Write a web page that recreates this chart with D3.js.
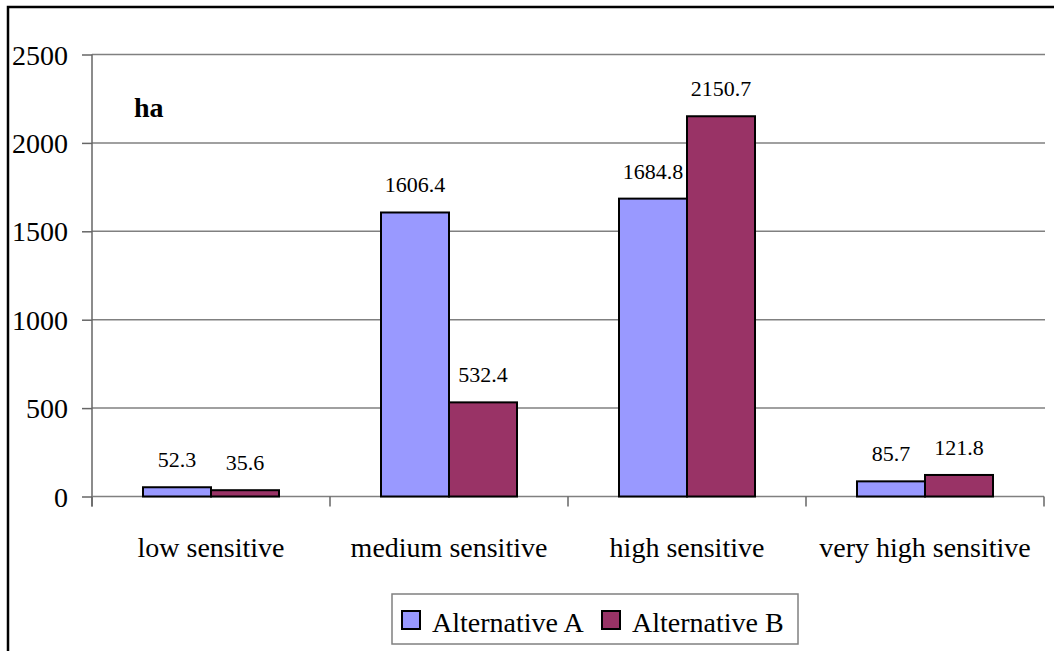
<!DOCTYPE html>
<html>
<head>
<meta charset="utf-8">
<script src="https://cdn.jsdelivr.net/npm/d3@7"></script>
</head>
<body style="margin:0; padding:0; background:#fff;">
<svg id="chart" width="1054" height="651" style="display:block;"></svg>
<script>
// Sensitivity classes and area (ha) per planning alternative
const categories = ["low sensitive", "medium sensitive", "high sensitive", "very high sensitive"];
const seriesNames = ["Alternative A", "Alternative B"];
const alternativeA = [52.3, 1606.4, 1684.8, 85.7];
const alternativeB = [35.6, 532.4, 2150.7, 121.8];
const yTicks = [0, 500, 1000, 1500, 2000, 2500];
const seriesColors = ["#9999FF", "#993366"];

const FONT = "Liberation Serif";
const svg = d3.select("#chart");

// Outer chart frame (extends past the right and bottom edges)
svg.append("rect")
  .attr("x", 8).attr("y", 7)
  .attr("width", 1200).attr("height", 800)
  .attr("fill", "none").attr("stroke", "#000").attr("stroke-width", 2.5);

const plot = { left: 92, right: 1044, top: 54.5, bottom: 496.5 };

const y = d3.scaleLinear().domain([0, 2500]).range([plot.bottom, plot.top]);
const x0 = d3.scaleBand().domain(categories).range([plot.left, plot.right]).padding(0);
const x1 = d3.scaleBand().domain(seriesNames).range([0, x0.bandwidth()])
  .paddingInner(0).paddingOuter(0.75);

// Horizontal gridlines
svg.append("g").selectAll("line").data(yTicks.filter(d => d > 0)).join("line")
  .attr("x1", plot.left).attr("x2", plot.right + 1)
  .attr("y1", d => y(d)).attr("y2", d => y(d))
  .attr("stroke", "#808080").attr("stroke-width", 1.5);

// Y axis
const yAxis = svg.append("g")
  .attr("transform", `translate(${plot.left},0)`)
  .call(d3.axisLeft(y).tickValues(yTicks).tickSize(10).tickPadding(14).tickFormat(d3.format("d")));
yAxis.attr("font-family", null).attr("font-size", null);
yAxis.select(".domain").remove();
yAxis.selectAll(".tick line").attr("stroke", "#666").attr("stroke-width", 1.5);
yAxis.selectAll(".tick text")
  .style("font-family", FONT).attr("font-size", 28).attr("fill", "#000")
  .attr("dy", "0.34em");
svg.append("line")
  .attr("x1", plot.left).attr("x2", plot.left)
  .attr("y1", plot.top).attr("y2", plot.bottom + 10)
  .attr("stroke", "#666").attr("stroke-width", 1.5);

// X axis with category-boundary ticks
const xAxis = svg.append("g").attr("transform", `translate(0,${plot.bottom})`);
xAxis.append("line")
  .attr("x1", plot.left).attr("x2", plot.right)
  .attr("stroke", "#808080").attr("stroke-width", 1.5);
const boundaries = categories.map(c => x0(c)).concat([plot.right]);
xAxis.selectAll("line.tk").data(boundaries).join("line").attr("class", "tk")
  .attr("x1", d => d).attr("x2", d => d).attr("y1", 0).attr("y2", 10)
  .attr("stroke", "#666").attr("stroke-width", 1.5);
xAxis.selectAll("text").data(categories).join("text")
  .attr("x", d => x0(d) + x0.bandwidth() / 2)
  .attr("y", 60)
  .attr("text-anchor", "middle")
  .style("font-family", FONT).attr("font-size", 28).attr("fill", "#000")
  .text(d => d);

// Bars
const rows = categories.map((c, i) => ({ category: c, values: [alternativeA[i], alternativeB[i]] }));
const groups = svg.append("g").selectAll("g").data(rows).join("g")
  .attr("transform", d => `translate(${x0(d.category)},0)`);

groups.selectAll("rect")
  .data(d => d.values.map((v, j) => ({ series: seriesNames[j], value: v, j })))
  .join("rect")
  .attr("x", d => x1(d.series))
  .attr("y", d => y(d.value))
  .attr("width", x1.bandwidth())
  .attr("height", d => y(0) - y(d.value))
  .attr("fill", d => seriesColors[d.j])
  .attr("stroke", "#000").attr("stroke-width", 2);

// Value labels
groups.selectAll("text")
  .data(d => d.values.map((v, j) => ({ series: seriesNames[j], value: v })))
  .join("text")
  .attr("x", d => x1(d.series) + x1.bandwidth() / 2)
  .attr("y", d => y(d.value) - 20)
  .attr("text-anchor", "middle")
  .style("font-family", FONT).attr("font-size", 22).attr("fill", "#000")
  .text(d => d3.format(".1f")(d.value));

// Unit label
svg.append("text")
  .attr("x", 134).attr("y", 117)
  .style("font-family", FONT).attr("font-size", 28).attr("font-weight", "bold").attr("fill", "#000")
  .text("ha");

// Legend
const legend = svg.append("g");
legend.append("rect")
  .attr("x", 392).attr("y", 594).attr("width", 406).attr("height", 50)
  .attr("fill", "#fff").attr("stroke", "#808080").attr("stroke-width", 1.5);
const legendX = [402, 602];
const items = legend.selectAll("g").data(seriesNames).join("g")
  .attr("transform", (d, i) => `translate(${legendX[i]},611)`);
items.append("rect")
  .attr("width", 18).attr("height", 18)
  .attr("fill", (d, i) => seriesColors[i])
  .attr("stroke", "#000").attr("stroke-width", 2);
items.append("text")
  .attr("x", 30).attr("y", 21)
  .style("font-family", FONT).attr("font-size", 28).attr("fill", "#000")
  .text(d => d);
</script>
</body>
</html>
